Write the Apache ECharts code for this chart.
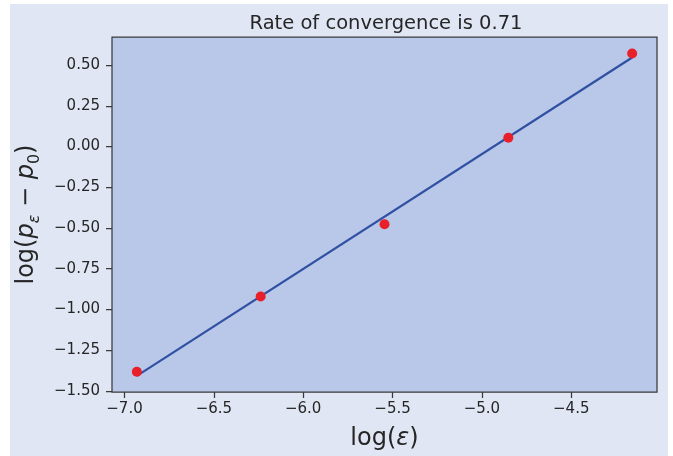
<!DOCTYPE html>
<html>
<head>
<meta charset="utf-8">
<script src="https://cdn.jsdelivr.net/npm/echarts@6/dist/echarts.min.js"></script>
<style>
  html, body { margin: 0; padding: 0; background: #ffffff; }
  #wrap { position: relative; width: 673px; height: 456px; background: #ffffff; }
  #bg { position: absolute; left: 10px; top: 4px; width: 658px; height: 452px; background: #e0e6f4; }
  #chart { position: absolute; left: 0; top: 0; width: 673px; height: 456px; }
</style>
</head>
<body>
<div id="wrap"><div id="bg"></div><div id="chart"></div></div>
<script>
// Data
const logEps = [-6.931, -6.238, -5.545, -4.852, -4.159];
const logDiff = [-1.383, -0.921, -0.477, 0.054, 0.572];
const fitX = [-6.931, -4.159];
const fitY = [-1.408, 0.547];
const xTicks = [-7.0, -6.5, -6.0, -5.5, -5.0, -4.5];
const yTicks = [-1.5, -1.25, -1.0, -0.75, -0.5, -0.25, 0.0, 0.25, 0.5];
const titleText = 'Rate of convergence is 0.71';

const FONT = 'DejaVu Sans';
const TXT = '#262626';
const FRAME = '#3a3a3a';

function fmt(v, d) {
  const s = Math.abs(v).toFixed(d);
  return (v < 0 ? '\u2212' : '') + s;
}

const chart = echarts.init(document.getElementById('chart'), null, { renderer: 'canvas' });
chart.setOption({
  backgroundColor: 'transparent',
  animation: false,
  title: {
    text: titleText,
    left: 381, textAlign: 'center',
    top: 9,
    textStyle: { fontFamily: FONT, fontSize: 19.5, fontWeight: 'normal', color: TXT }
  },
  grid: {
    left: 112, right: 16, top: 37, bottom: 64,
    show: true, backgroundColor: '#b9c8e8',
    borderColor: FRAME, borderWidth: 1.25
  },
  xAxis: {
    type: 'value',
    min: -7.07, max: -4.02,
    splitLine: { show: false },
    axisLine: { show: false, onZero: false },
    axisTick: { show: true, length: 6, lineStyle: { color: FRAME, width: 1.25 }, customValues: xTicks },
    axisLabel: {
      customValues: xTicks,
      formatter: v => fmt(v, 1),
      fontFamily: FONT, fontSize: 15, color: TXT, margin: 10
    },
    name: '{n|log(}{i|ε}{n|)}',
    nameLocation: 'middle', nameGap: 35,
    nameTextStyle: {
      rich: {
        n: { fontFamily: FONT, fontSize: 24, color: TXT },
        i: { fontFamily: FONT, fontSize: 24, fontStyle: 'italic', color: TXT }
      }
    }
  },
  yAxis: {
    type: 'value',
    min: -1.507, max: 0.673,
    splitLine: { show: false },
    axisLine: { show: false, onZero: false },
    axisTick: { show: true, length: 6, lineStyle: { color: FRAME, width: 1.25 }, customValues: yTicks },
    axisLabel: {
      customValues: yTicks,
      formatter: v => fmt(v, 2),
      fontFamily: FONT, fontSize: 15, color: TXT, margin: 12
    },
    name: '{n|log(}{i|p}{s|ε}{n| \u2212 }{i|p}{z|0}{n|)}',
    nameLocation: 'middle', nameGap: 64, nameRotate: 90,
    nameTextStyle: {
      rich: {
        n: { fontFamily: FONT, fontSize: 24, color: TXT, lineHeight: 32 },
        i: { fontFamily: FONT, fontSize: 24, fontStyle: 'italic', color: TXT, lineHeight: 32 },
        s: { fontFamily: FONT, fontSize: 16, fontStyle: 'italic', color: TXT, lineHeight: 16, verticalAlign: 'bottom' },
        z: { fontFamily: FONT, fontSize: 16, color: TXT, lineHeight: 16, verticalAlign: 'bottom' }
      }
    }
  },
  series: [
    {
      type: 'line',
      data: fitX.map((x, i) => [x, fitY[i]]),
      showSymbol: false,
      lineStyle: { color: '#3050a3', width: 2.2 },
      z: 2
    },
    {
      type: 'scatter',
      data: logEps.map((x, i) => [x, logDiff[i]]),
      symbol: 'circle', symbolSize: 10,
      itemStyle: { color: '#e8202a', opacity: 1 },
      z: 3
    }
  ]
});
</script>
</body>
</html>
